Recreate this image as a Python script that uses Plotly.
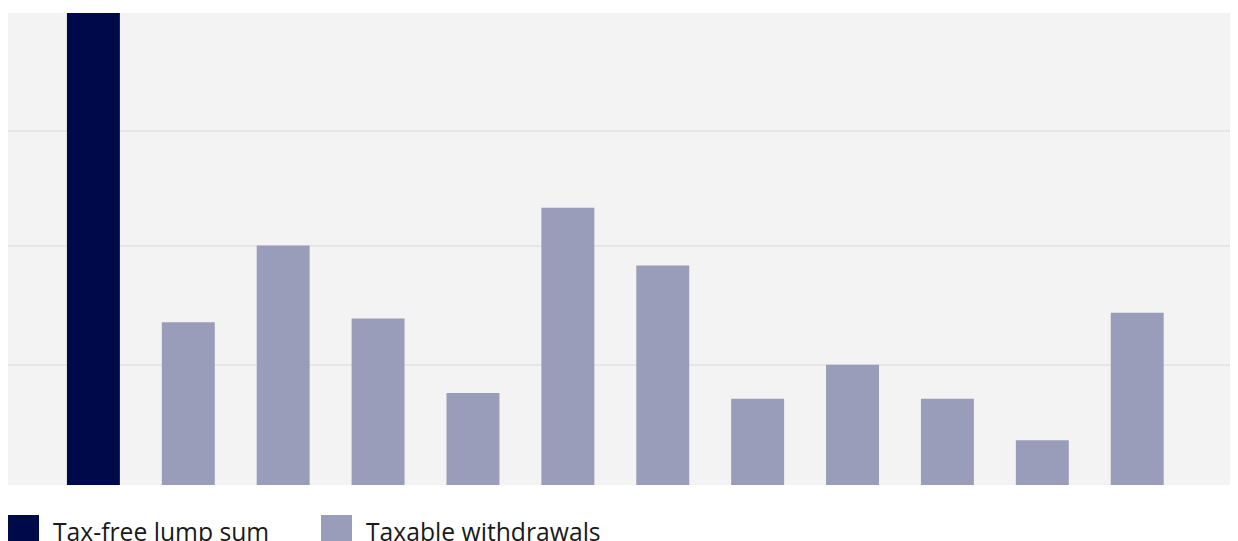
import plotly.graph_objects as go

# Data (units: relative height; gridline step = 1)
categories = ["1", "2", "3", "4", "5", "6", "7", "8", "9", "10", "11", "12"]
lump_sum = [4.0, None, None, None, None, None, None, None, None, None, None, None]
taxable = [None, 1.38, 2.03, 1.41, 0.78, 2.35, 1.86, 0.73, 1.02, 0.73, 0.38, 1.46]
series_names = ["Tax-free lump sum", "Taxable withdrawals"]
grid_vals = [0, 1.02, 2.025, 3.0, 4.0]

DARK = "#000A4A"
LIGHT = "#999DB9"

OFF = 8  # page offset of the figure in the browser
W, H = 1238, 541
L, R, T, B = 0, 12, 5, 64
pw, ph = W - L - R, H - T - B

fig = go.Figure()
fig.add_trace(go.Bar(x=categories, y=lump_sum, name=series_names[0],
                     marker=dict(color=DARK, line=dict(width=0)), width=0.558,
                     showlegend=False))
fig.add_trace(go.Bar(x=categories, y=taxable, name=series_names[1],
                     marker=dict(color=LIGHT, line=dict(width=0)), width=0.558,
                     showlegend=False))

fig.update_layout(
    width=W, height=H,
    margin=dict(l=L, r=R, t=T, b=B, pad=0),
    paper_bgcolor="white", plot_bgcolor="#F3F3F3",
    barmode="overlay",
    font=dict(family="Open Sans", color="#1a1a1a"),
    showlegend=False,
)
fig.update_xaxes(type="category", range=[-0.9, 12.02], showticklabels=False,
                 showgrid=False, zeroline=False, showline=False, ticks="")
fig.update_yaxes(range=[0, 4.0], tickvals=grid_vals, showticklabels=False,
                 showgrid=True, gridcolor="#E6E6E6", gridwidth=1.5,
                 zeroline=False, showline=False, ticks="")

def px_x(px):
    return (px - OFF - L) / pw

def px_y(py):
    return (H - B - (py - OFF)) / ph

# Custom legend (squares + text)
legend_items = [(8, 51, DARK, series_names[0]), (321, 364, LIGHT, series_names[1])]
for sx, tx, col, label in legend_items:
    fig.add_shape(type="rect", xref="paper", yref="paper",
                  x0=px_x(sx), x1=px_x(sx + 31), y0=px_y(547), y1=px_y(515),
                  fillcolor=col, line=dict(width=0), layer="above")
    fig.add_annotation(xref="paper", yref="paper", x=px_x(tx), y=px_y(531),
                       xanchor="left", yanchor="middle", showarrow=False,
                       text=label, font=dict(size=24.7, family="Open Sans", color="#1a1a1a"))

fig.write_html("out.html")
